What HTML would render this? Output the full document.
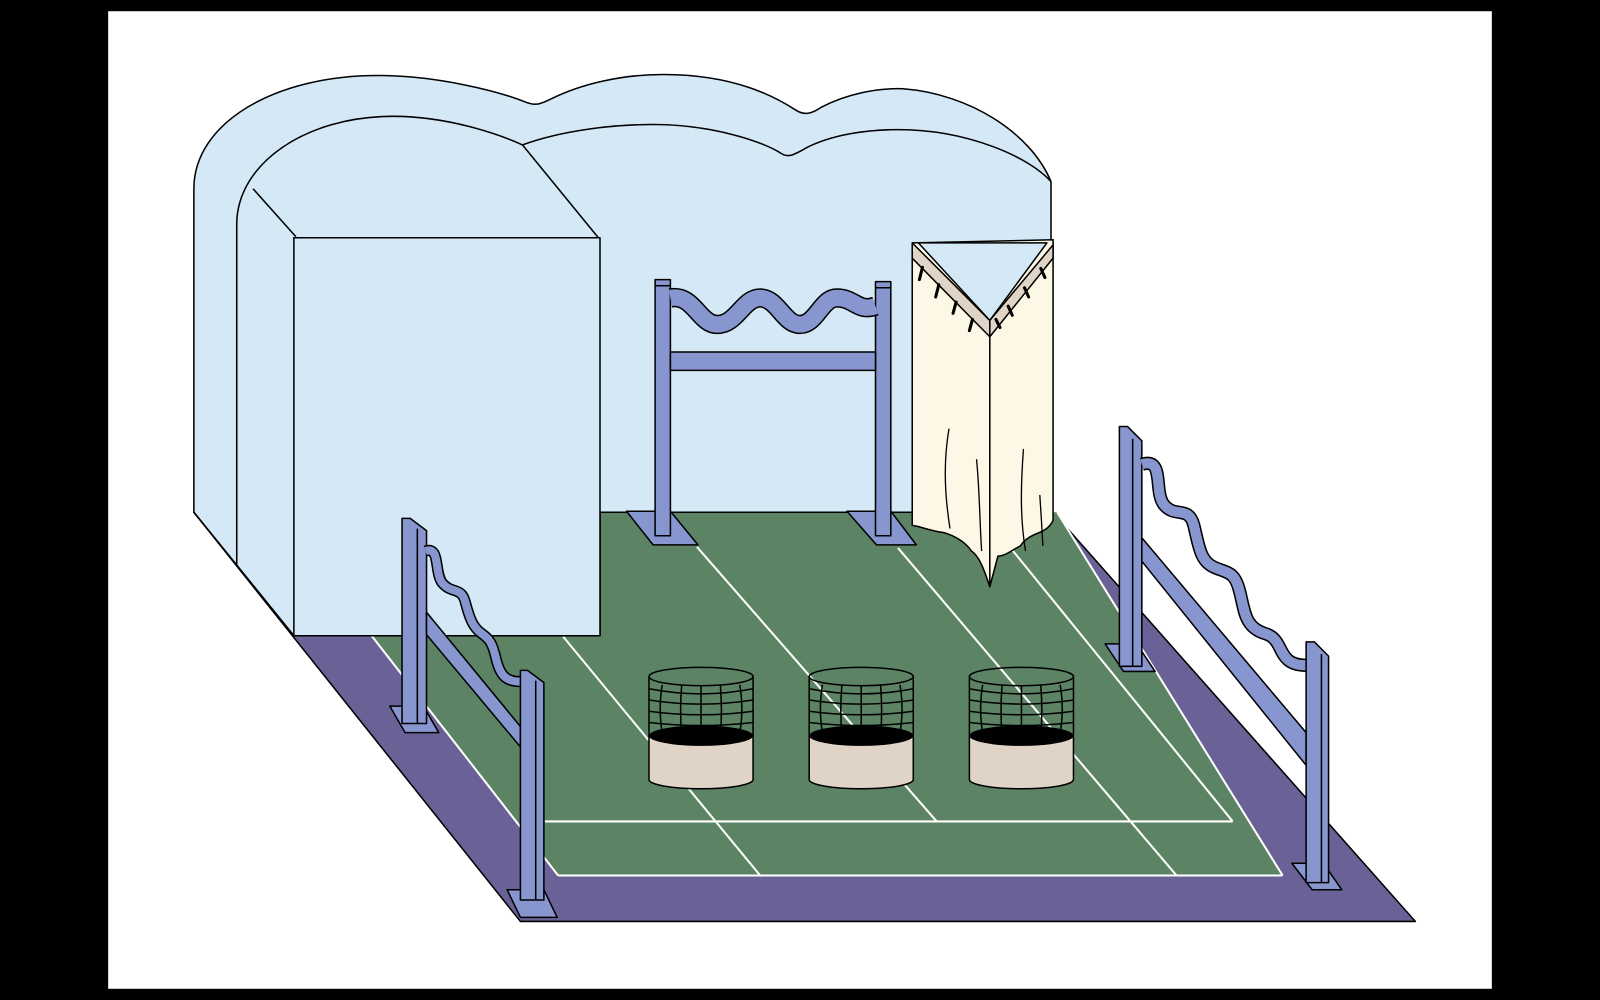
<!DOCTYPE html>
<html><head><meta charset="utf-8"><style>html,body{margin:0;padding:0;background:#000;}svg{display:block}</style></head>
<body>
<svg width="1600" height="1000" viewBox="0 0 1568 980" preserveAspectRatio="none" xmlns="http://www.w3.org/2000/svg">
<rect x="0" y="0" width="1568" height="980" fill="#000"/>
<rect x="106" y="11" width="1356" height="958" fill="#fff"/>
<g stroke="#000" stroke-width="1.5" stroke-linejoin="round">
<!-- floor -->
<polygon points="190,502 1032,502 1387,903 510,903" fill="#6a6196"/>
<polygon points="270,502 1036,502 1257,858 547,858" fill="#5c8464" stroke="none"/>
</g>
<g stroke="#fff" stroke-width="2" fill="none">
<line x1="270" y1="502" x2="547" y2="858"/>
<line x1="547" y1="858" x2="1257" y2="858"/>
<line x1="1257" y1="858" x2="1036" y2="502"/>
<line x1="534" y1="805" x2="1208" y2="805"/>
<line x1="552" y1="624" x2="745" y2="858"/>
<line x1="683" y1="536" x2="918" y2="805"/>
<line x1="880" y1="537" x2="1153" y2="858"/>
<line x1="940" y1="475" x2="1208" y2="805"/>
</g>
<g stroke="#000" stroke-width="1.5" stroke-linejoin="round" fill="#d4e8f6">
<!-- tent -->
<path d="M190,502 L190,185 C190,120 270,74 370,74 C430,74 490,90 515,100 C525,104 530,102 540,97 C570,82 610,73 650,73 C720,73 760,95 780,108 C788,113 795,112 805,105 C830,92 860,86 885,87 C950,92 1010,130 1030,178 L1030,502 L588,502 L588,623 L288,623 Z"/>
<path d="M232,554 L232,220 C232,160 300,114 385,114 C440,114 490,132 512,142 C550,128 600,122 640,122 C700,122 750,140 765,150 C772,155 778,152 790,145 C815,132 850,127 880,127 C950,127 1010,155 1030,178" fill="none"/>
<line x1="190" y1="502" x2="288" y2="623"/>
<line x1="248" y1="185" x2="290" y2="232"/>
<line x1="512" y1="142" x2="588" y2="235"/>
<rect x="288" y="233" width="300" height="390"/>
</g>
<!-- center goal -->
<g stroke="#000" stroke-width="1.5" stroke-linejoin="round" fill="#8896cf">
<polygon points="614,501 657,501 684,534 640,534"/>
<polygon points="830,501 873,501 898,534 859,534"/>
<rect x="642" y="274" width="15" height="251"/>
<line x1="642" y1="280" x2="657" y2="280"/>
<rect x="858" y="276" width="15" height="249"/>
<line x1="858" y1="282" x2="873" y2="282"/>
<rect x="657" y="345" width="201" height="18"/>
</g>
<path d="M657,292 C680,288 685,318 703,318 C722,318 728,292 745,292 C762,292 768,318 784,318 C800,318 805,292 820,292 C838,292 840,306 858,300" fill="none" stroke="#000" stroke-width="19"/>
<path d="M657,292 C680,288 685,318 703,318 C722,318 728,292 745,292 C762,292 768,318 784,318 C800,318 805,292 820,292 C838,292 840,306 858,300" fill="none" stroke="#8896cf" stroke-width="16"/>
<!-- curtain -->
<g stroke="#000" stroke-width="1.5" stroke-linejoin="round">
<path d="M894,238 L1032,235 L1032,510 C1025,525 1010,520 1000,535 C990,540 985,545 978,545 L970,575 C965,560 960,545 952,540 C945,530 935,525 925,522 C910,520 900,515 894,515 Z" fill="#fdf8e6"/>
<polygon points="894,238 970,314 1032,240 1032,253 970,330 894,253" fill="#e0d4c6"/>
<polygon points="900,238 1026,238 970,314" fill="#d4e8f6"/>
<line x1="970" y1="314" x2="970" y2="575"/>
<g fill="none" stroke-width="1.3">
<path d="M930,420 C925,450 925,480 931,518"/>
<path d="M957,450 C960,480 960,510 962,540"/>
<path d="M1003,440 C1000,480 1000,510 1005,540"/>
<path d="M1019,485 C1020,500 1021,515 1022,535"/>
</g>
<g stroke-width="3" stroke-linecap="round">
<line x1="904" y1="262" x2="901" y2="274"/>
<line x1="920" y1="279" x2="917" y2="291"/>
<line x1="937" y1="296" x2="934" y2="307"/>
<line x1="953" y1="313" x2="950" y2="324"/>
<line x1="1020" y1="263" x2="1024" y2="272"/>
<line x1="1004" y1="282" x2="1008" y2="291"/>
<line x1="988" y1="300" x2="992" y2="309"/>
<line x1="976" y1="313" x2="980" y2="321"/>
</g>
</g>
<!-- baskets -->
<defs>
<g id="bk">
<path d="M-51,721 L-51,764 A51,9 0 0 0 51,764 L51,721 Z" fill="#e0d4c6" stroke="#000" stroke-width="1.5"/>
<ellipse cx="0" cy="721" rx="51" ry="10" fill="#000"/>
<g fill="none" stroke="#000" stroke-width="1.5">
<ellipse cx="0" cy="663" rx="51" ry="9"/>
<line x1="-51" y1="663" x2="-51" y2="721"/>
<line x1="51" y1="663" x2="51" y2="721"/>
<path d="M-51,675 Q0,685 51,675"/>
<path d="M-51,686 Q0,694 51,686"/>
<path d="M-51,697 Q0,704 51,697"/>
<path d="M-51,708 Q0,714 51,708"/>
<path d="M-38,671 Q-42,695 -38,718"/>
<path d="M-19,672 Q-21,697 -19,720"/>
<path d="M0,672 L0,721"/>
<path d="M19,672 Q21,697 19,720"/>
<path d="M38,671 Q42,695 38,718"/>
</g>
</g>
</defs>
<use href="#bk" x="687"/>
<use href="#bk" x="844"/>
<use href="#bk" x="1001"/>
<!-- left fence -->
<g stroke="#000" stroke-width="1.5" stroke-linejoin="round" fill="#8896cf">
<polygon points="382,692 415,692 430,718 397,718"/>
<polygon points="394,508 402,508 418,520 418,709 394,709"/>
<line x1="409" y1="518" x2="409" y2="709"/>
<polygon points="418,600 510,712 510,732 418,622"/>
</g>
<path d="M417,540 C432,535 425,562 434,572 S452,575 456,590 S463,614 471,620 S482,628 486,645 S496,668 510,668" fill="none" stroke="#000" stroke-width="11"/>
<path d="M417,540 C432,535 425,562 434,572 S452,575 456,590 S463,614 471,620 S482,628 486,645 S496,668 510,668" fill="none" stroke="#8896cf" stroke-width="8"/>
<g stroke="#000" stroke-width="1.5" stroke-linejoin="round" fill="#8896cf">
<polygon points="497,872 533,872 546,899 510,899"/>
<polygon points="510,657 517,657 533,669 533,882 510,882"/>
<line x1="525" y1="667" x2="525" y2="882"/>
</g>
<!-- right fence -->
<g stroke="#000" stroke-width="1.5" stroke-linejoin="round" fill="#8896cf">
<polygon points="1083,631 1114,631 1132,658 1101,658"/>
<polygon points="1097,418 1105,418 1119,432 1119,653 1097,653"/>
<line x1="1110" y1="430" x2="1110" y2="653"/>
<polygon points="1119,527 1280,718 1280,750 1119,550"/>
</g>
<path d="M1119,455 C1142,448 1130,482 1141,495 S1165,495 1170,515 S1176,550 1190,556 S1210,560 1215,580 S1220,615 1240,621 S1250,652 1280,652" fill="none" stroke="#000" stroke-width="13"/>
<path d="M1119,455 C1142,448 1130,482 1141,495 S1165,495 1170,515 S1176,550 1190,556 S1210,560 1215,580 S1220,615 1240,621 S1250,652 1280,652" fill="none" stroke="#8896cf" stroke-width="10"/>
<g stroke="#000" stroke-width="1.5" stroke-linejoin="round" fill="#8896cf">
<polygon points="1266,846 1297,846 1315,872 1286,872"/>
<polygon points="1280,629 1288,629 1302,643 1302,865 1280,865"/>
<line x1="1295" y1="641" x2="1295" y2="865"/>
</g>
</svg>
</body></html>
